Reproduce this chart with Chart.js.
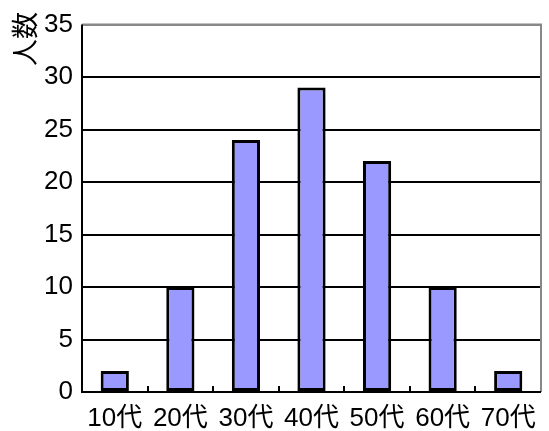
<!DOCTYPE html>
<html>
<head>
<meta charset="utf-8">
<script src="https://cdn.jsdelivr.net/npm/chart.js@4/dist/chart.umd.min.js"></script>
<style>
  html, body { margin: 0; padding: 0; background: #fff; }
  #wrap { width: 549px; height: 431px; }
</style>
</head>
<body>
<div id="wrap"><canvas id="ageChart"></canvas></div>
<script>
// 年代別の人数
var ageLabels = ['10代', '20代', '30代', '40代', '50代', '60代', '70代'];
var peopleCounts = [2, 10, 24, 29, 22, 10, 2];
var yTicks = [0, 5, 10, 15, 20, 25, 30, 35];
var yTitle = '人数';

var fontFamily = '"Liberation Sans", Arial, "Noto Sans CJK JP", sans-serif';

// frame around the plot, small inward ticks between categories, rotated axis title
var frameAndTicks = {
    id: 'frameAndTicks',
    afterDatasetsDraw: function(chart) {
        var ctx = chart.ctx;
        var area = chart.chartArea;
        var x = chart.scales.x;
        ctx.save();
        ctx.lineWidth = 2;
        ctx.strokeStyle = '#888';
        ctx.beginPath();
        ctx.moveTo(area.left, area.top);
        ctx.lineTo(area.right, area.top);
        ctx.lineTo(area.right, area.bottom);
        ctx.stroke();
        ctx.strokeStyle = '#000';
        ctx.beginPath();
        ctx.moveTo(area.left, area.top);
        ctx.lineTo(area.left, area.bottom);
        ctx.lineTo(area.right, area.bottom);
        ctx.stroke();
        for (var i = 0; i < ageLabels.length - 1; i++) {
            var px = Math.round((x.getPixelForTick(i) + x.getPixelForTick(i + 1)) / 2);
            ctx.beginPath();
            ctx.moveTo(px, area.bottom);
            ctx.lineTo(px, area.bottom - 6);
            ctx.stroke();
        }
        // y axis title, read bottom to top, top end near the canvas top
        ctx.translate(28, 12);
        ctx.rotate(-Math.PI / 2);
        ctx.fillStyle = '#000';
        ctx.font = '27px ' + fontFamily;
        ctx.textAlign = 'right';
        ctx.textBaseline = 'middle';
        ctx.fillText(yTitle, 0, 0);
        ctx.restore();
    }
};

var ctx = document.getElementById('ageChart').getContext('2d');
var ageChart = new Chart(ctx, {
    type: 'bar',
    data: {
        labels: ageLabels,
        datasets: [{
            label: yTitle,
            data: peopleCounts,
            backgroundColor: '#9999ff',
            borderColor: '#000',
            borderWidth: 3,
            borderSkipped: false,
            categoryPercentage: 1,
            barPercentage: 0.43
        }]
    },
    options: {
        responsive: true,
        maintainAspectRatio: false,
        animation: false,
        layout: { padding: { top: 21, right: 8, left: 0, bottom: 0 } },
        plugins: {
            legend: { display: false },
            tooltip: { enabled: false }
        },
        scales: {
            x: {
                grid: { display: false, drawTicks: false },
                border: { display: false },
                ticks: {
                    color: '#000',
                    padding: 11,
                    maxRotation: 0,
                    font: { family: fontFamily, size: 26 }
                },
                afterFit: function(scale) { scale.height = 39; }
            },
            y: {
                min: 0,
                max: 35,
                afterBuildTicks: function(scale) {
                    scale.ticks = yTicks.map(function(v) { return { value: v }; });
                },
                grid: {
                    color: function(c) { return c.tick && c.tick.value === 35 ? '#888' : '#000'; },
                    lineWidth: 2,
                    drawTicks: false
                },
                border: { display: false },
                ticks: {
                    color: '#000',
                    padding: 9,
                    font: { family: fontFamily, size: 26 }
                },
                afterFit: function(scale) { scale.width = 82; }
            }
        }
    },
    plugins: [frameAndTicks]
});
</script>
</body>
</html>
